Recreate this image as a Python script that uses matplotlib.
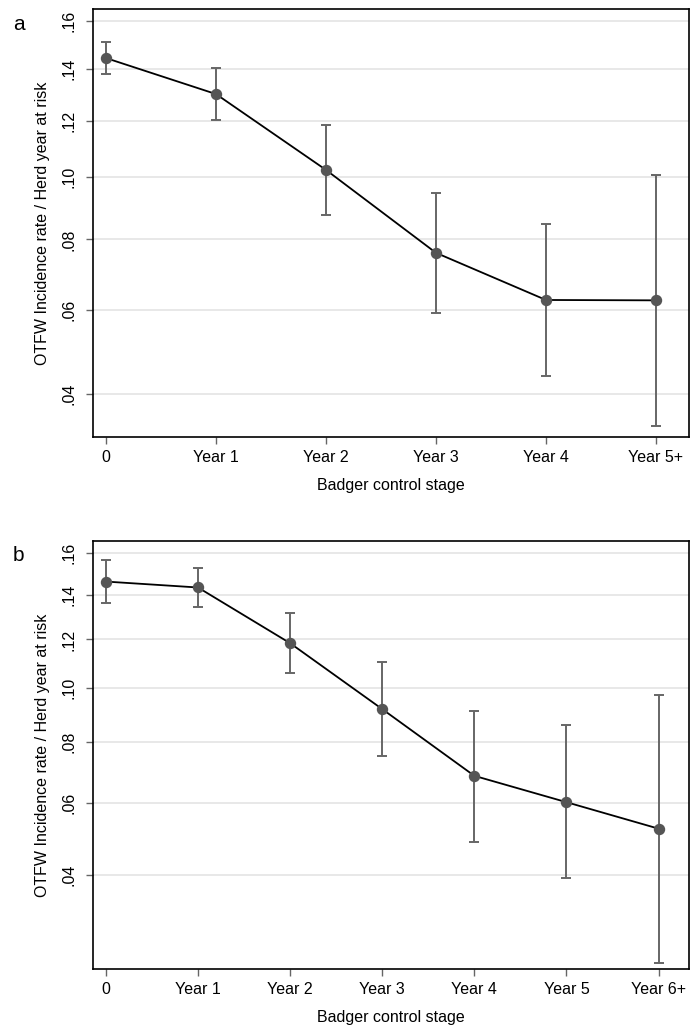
import numpy as np
import matplotlib
matplotlib.use("Agg")
from matplotlib import pyplot as plt

plt.rcParams['font.family'] = ['Liberation Sans', 'DejaVu Sans']

# Panel a data (rate, lower CI, upper CI)
stages_a = ["0", "Year 1", "Year 2", "Year 3", "Year 4", "Year 5+"]
rate_a = [0.1445, 0.1302, 0.1025, 0.0760, 0.0627, 0.0626]
low_a = [0.1380, 0.1204, 0.0876, 0.0593, 0.0440, 0.0334]
high_a = [0.1511, 0.1405, 0.1185, 0.0947, 0.0848, 0.1007]

# Panel b data
stages_b = ["0", "Year 1", "Year 2", "Year 3", "Year 4", "Year 5", "Year 6+"]
rate_b = [0.1462, 0.1434, 0.1184, 0.0919, 0.0685, 0.0602, 0.0524]
low_b = [0.1363, 0.1344, 0.1061, 0.0752, 0.0487, 0.0392, 0.0211]
high_b = [0.1565, 0.1525, 0.1317, 0.1107, 0.0911, 0.0859, 0.0973]

yticks = [0.04, 0.06, 0.08, 0.10, 0.12, 0.14, 0.16]
ytick_labels = [".04", ".06", ".08", ".10", ".12", ".14", ".16"]


def sqrt_fwd(v):
    return np.sqrt(np.clip(v, 0, None))


def sqrt_inv(v):
    return np.square(v)


fig = plt.figure(figsize=(6.9, 10.31), dpi=100)
ax_a = fig.add_axes([93 / 690, 1 - 437 / 1031, 596 / 690, 428 / 1031])
ax_b = fig.add_axes([93 / 690, 1 - 969 / 1031, 596 / 690, 428 / 1031])


def draw_panel(ax, stages, rate, low, high, ylim, xlim, letter, letter_y):
    x = np.arange(len(stages))
    rate = np.array(rate)
    err = [rate - np.array(low), np.array(high) - rate]
    ax.set_yscale('function', functions=(sqrt_fwd, sqrt_inv))
    ax.set_axisbelow(True)
    ax.grid(axis='y', color='#e4e4e4', linewidth=1.2)
    ax.errorbar(x, rate, yerr=err, fmt='none', ecolor='#666666',
                elinewidth=1.4, capsize=3.5, capthick=1.4, zorder=2)
    ax.plot(x, rate, color='black', linewidth=1.3, zorder=3)
    ax.plot(x, rate, linestyle='none', marker='o', markersize=7.2,
            color='#555555', zorder=4)
    ax.set_ylim(ylim)
    ax.set_xlim(xlim)
    ax.set_yticks(yticks)
    ax.set_yticklabels(ytick_labels, rotation=90, va='center')
    ax.yaxis.set_minor_locator(matplotlib.ticker.NullLocator())
    ax.set_xticks(x)
    ax.set_xticklabels(stages)
    ax.tick_params(axis='both', labelsize=11.5, length=5, width=1,
                   color='#666666')
    ax.tick_params(axis='y', pad=7)
    ax.tick_params(axis='x', pad=4)
    for s in ax.spines.values():
        s.set_linewidth(1.2)
    ax.set_xlabel("Badger control stage", fontsize=11.5, labelpad=10)
    ax.set_ylabel("OTFW Incidence rate / Herd year at risk", fontsize=11.5,
                  labelpad=8)
    fig.text(13 / 690, 1 - letter_y / 1031, letter, fontsize=15,
             ha='left', va='baseline')


draw_panel(ax_a, stages_a, rate_a, low_a, high_a,
           (0.0313, 0.1652), (-0.118, 5.3), "a", 30)
draw_panel(ax_b, stages_b, rate_b, low_b, high_b,
           (0.0201, 0.1661), (-0.14, 6.33), "b", 561)

plt.savefig("out.png", dpi=100)
